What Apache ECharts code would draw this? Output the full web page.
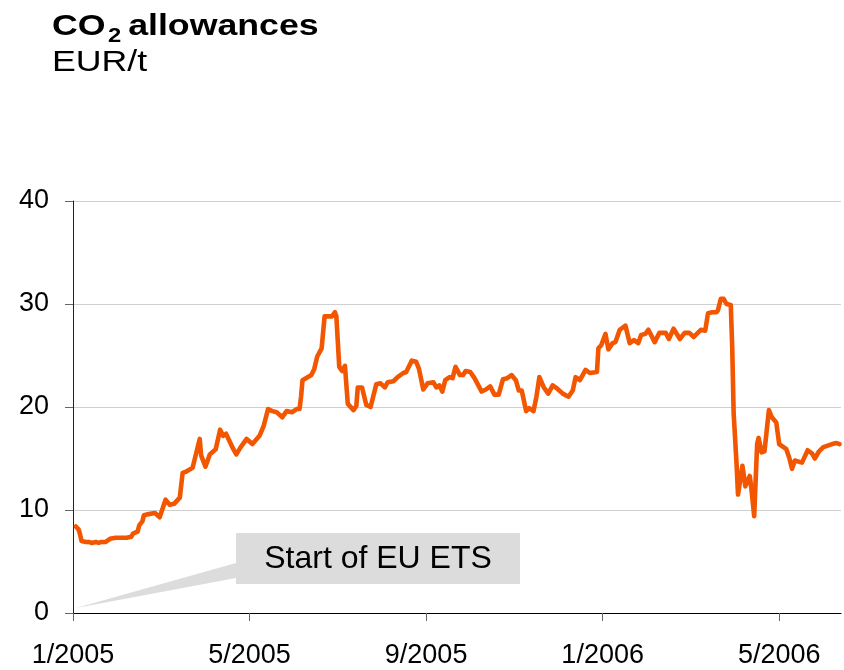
<!DOCTYPE html>
<html>
<head>
<meta charset="utf-8">
<title>CO2 allowances</title>
<script src="https://cdn.jsdelivr.net/npm/echarts@6/dist/echarts.min.js"></script>
<style>
  html, body { margin: 0; padding: 0; background: #ffffff; }
  #chart { width: 844px; height: 670px; }
</style>
</head>
<body>
<div id="chart"></div>
<script>
// EUA spot price, EUR per tonne of CO2
const dates = [
  '2005-01-03','2005-01-04','2005-01-05','2005-01-06','2005-01-07','2005-01-10','2005-01-12','2005-01-14',
  '2005-01-17','2005-01-19','2005-01-21','2005-01-24','2005-01-27','2005-01-31','2005-02-03','2005-02-07',
  '2005-02-10','2005-02-11','2005-02-14','2005-02-15','2005-02-17','2005-02-18','2005-02-21','2005-02-25',
  '2005-02-28','2005-03-01','2005-03-04','2005-03-07','2005-03-10','2005-03-14','2005-03-16','2005-03-18',
  '2005-03-23','2005-03-28','2005-03-29','2005-04-01','2005-04-04','2005-04-08','2005-04-11','2005-04-13',
  '2005-04-15','2005-04-20','2005-04-22','2005-04-25','2005-04-29','2005-05-03','2005-05-08','2005-05-11',
  '2005-05-14','2005-05-17','2005-05-20','2005-05-24','2005-05-27','2005-05-31','2005-06-03','2005-06-05',
  '2005-06-06','2005-06-07','2005-06-13','2005-06-15','2005-06-17','2005-06-20','2005-06-22','2005-06-27',
  '2005-06-29','2005-06-30','2005-07-02','2005-07-04','2005-07-06','2005-07-08','2005-07-12','2005-07-14',
  '2005-07-15','2005-07-18','2005-07-21','2005-07-24','2005-07-28','2005-07-31','2005-08-03','2005-08-05',
  '2005-08-09','2005-08-12','2005-08-16','2005-08-18','2005-08-22','2005-08-25','2005-08-27','2005-08-30',
  '2005-09-02','2005-09-06','2005-09-08','2005-09-10','2005-09-12','2005-09-14','2005-09-17','2005-09-19',
  '2005-09-21','2005-09-24','2005-09-26','2005-09-28','2005-10-01','2005-10-04','2005-10-09','2005-10-12',
  '2005-10-15','2005-10-18','2005-10-21','2005-10-24','2005-10-27','2005-10-30','2005-11-02','2005-11-04',
  '2005-11-06','2005-11-09','2005-11-11','2005-11-14','2005-11-16','2005-11-18','2005-11-21','2005-11-24',
  '2005-11-27','2005-11-30','2005-12-04','2005-12-08','2005-12-11','2005-12-13','2005-12-16','2005-12-20',
  '2005-12-23','2005-12-28','2005-12-29','2005-12-31','2006-01-03','2006-01-05','2006-01-08','2006-01-10',
  '2006-01-13','2006-01-17','2006-01-20','2006-01-23','2006-01-26','2006-01-28','2006-01-31','2006-02-02',
  '2006-02-06','2006-02-09','2006-02-13','2006-02-15','2006-02-18','2006-02-22','2006-02-25','2006-02-28',
  '2006-03-03','2006-03-08','2006-03-11','2006-03-13','2006-03-16','2006-03-19','2006-03-20','2006-03-22',
  '2006-03-24','2006-03-26','2006-03-29','2006-03-30','2006-03-31','2006-04-02','2006-04-03','2006-04-06',
  '2006-04-08','2006-04-11','2006-04-12','2006-04-14','2006-04-16','2006-04-17','2006-04-19','2006-04-21',
  '2006-04-24','2006-04-26','2006-04-29','2006-05-01','2006-05-06','2006-05-08','2006-05-10','2006-05-12',
  '2006-05-17','2006-05-21','2006-05-24','2006-05-26','2006-05-29','2006-06-01','2006-06-05','2006-06-07',
  '2006-06-10','2006-06-12'
];

const prices = [
  8.4, 8.3, 8.1, 7.6, 7.0, 6.9, 6.9, 6.8,
  6.9, 6.8, 6.9, 6.9, 7.2, 7.3, 7.3, 7.3,
  7.4, 7.7, 7.9, 8.5, 8.9, 9.5, 9.6, 9.7,
  9.3, 9.4, 11.0, 10.5, 10.6, 11.2, 13.6, 13.7,
  14.1, 16.9, 15.3, 14.2, 15.4, 15.9, 17.8, 17.2,
  17.4, 15.9, 15.4, 16.1, 16.9, 16.4, 17.2, 18.2,
  19.8, 19.6, 19.5, 19.0, 19.6, 19.5, 19.8, 19.8,
  21.0, 22.6, 23.1, 23.7, 24.9, 25.7, 28.8, 28.8,
  29.2, 28.8, 23.9, 23.5, 24.0, 20.3, 19.7, 20.1,
  21.9, 21.9, 20.2, 20.0, 22.2, 22.3, 21.9, 22.4,
  22.5, 22.9, 23.3, 23.4, 24.5, 24.4, 23.7, 21.7,
  22.3, 22.4, 21.9, 22.1, 21.5, 22.6, 22.9, 22.8,
  23.9, 23.1, 23.1, 23.5, 23.4, 22.8, 21.5, 21.7,
  22.0, 21.2, 21.2, 22.7, 22.8, 23.1, 22.6, 21.6,
  21.6, 19.6, 19.9, 19.6, 21.0, 22.9, 21.9, 21.3,
  22.1, 21.8, 21.3, 21.0, 21.6, 22.9, 22.6, 23.6,
  23.3, 23.4, 25.7, 26.0, 27.1, 25.6, 26.2, 26.3,
  27.5, 27.9, 26.2, 26.5, 26.2, 27.0, 27.1, 27.5,
  26.3, 27.2, 27.2, 26.6, 27.6, 26.6, 27.2, 27.2,
  26.8, 27.5, 27.4, 29.1, 29.2, 29.2, 29.4, 30.5,
  30.5, 30.0, 29.9, 25.8, 19.4, 14.5, 11.5, 14.3,
  12.3, 13.3, 12.2, 9.4, 16.4, 17.0, 15.6, 15.7,
  19.7, 19.0, 18.5, 16.4, 15.9, 15.1, 14.0, 14.8,
  14.6, 15.8, 15.5, 15.0, 15.7, 16.1, 16.3, 16.4,
  16.5, 16.4
];

// Month ticks every four months, counted from January 2005
const tickMonths = [0, 4, 8, 12, 16];
const yTicks = [0, 10, 20, 30, 40];
const annotationText = 'Start of EU ETS';

const BASE_YEAR = 2005;

// Date string -> fractional month index since January 2005
function monthIndex(s) {
  const [y, m, d] = s.split('-').map(Number);
  const days = new Date(y, m, 0).getDate();
  return (y - BASE_YEAR) * 12 + (m - 1) + (d - 1) / days;
}

function monthLabel(v) {
  const k = Math.round(v);
  return (k % 12 + 1) + '/' + (BASE_YEAR + Math.floor(k / 12));
}

const seriesData = dates.map((d, i) => [monthIndex(d), prices[i]]);

const FONT = '"Liberation Sans", Arial, Helvetica, sans-serif';
const chart = echarts.init(document.getElementById('chart'), null, { renderer: 'canvas' });

chart.setOption({
  backgroundColor: '#ffffff',
  animation: false,
  grid: { left: 73, right: 3, top: 201, bottom: 57 },
  xAxis: {
    type: 'value',
    min: 0,
    max: 17.4,
    interval: 4,
    axisLine: { show: true, lineStyle: { color: '#000000', width: 1 } },
    axisTick: { show: true, length: 8, customValues: tickMonths, lineStyle: { color: '#666666' } },
    axisLabel: {
      customValues: tickMonths,
      formatter: monthLabel,
      fontFamily: FONT, fontSize: 27, color: '#000000', margin: 29
    },
    splitLine: { show: false }
  },
  yAxis: {
    type: 'value',
    min: 0,
    max: 40,
    interval: 10,
    axisLine: { show: true, lineStyle: { color: '#222222', width: 1 } },
    axisTick: { show: true, length: 8, lineStyle: { color: '#666666' } },
    axisLabel: {
      customValues: yTicks,
      fontFamily: FONT, fontSize: 27, color: '#000000', margin: 24
    },
    splitLine: { show: true, lineStyle: { color: '#cfcfcf', width: 1 } }
  },
  series: [{
    type: 'line',
    data: seriesData,
    showSymbol: false,
    symbol: 'none',
    lineStyle: { color: '#f25600', width: 4.6, join: 'round', cap: 'round' },
    z: 5
  }]
});

// Title, unit and the callout box pointing at the start of trading
const tip = chart.convertToPixel({ gridIndex: 0 }, [0, 0]);
chart.setOption({
  graphic: [
    {
      type: 'group', x: 52, y: 0, scaleX: 1.19,
      children: [
        { type: 'text', x: 0, y: 27, style: { text: 'CO', font: 'bold 30px ' + FONT, fill: '#000', verticalAlign: 'middle' } },
        { type: 'text', x: 47, y: 36.5, style: { text: '2', font: 'bold 20px ' + FONT, fill: '#000', verticalAlign: 'middle' } },
        { type: 'text', x: 64, y: 27, style: { text: 'allowances', font: 'bold 30px ' + FONT, fill: '#000', verticalAlign: 'middle' } },
        { type: 'text', x: 0, y: 63, style: { text: 'EUR/t', font: '30px ' + FONT, fill: '#000', verticalAlign: 'middle' } }
      ]
    },
    {
      type: 'polygon',
      shape: { points: [[236, 563], [236, 578], [tip[0] + 3, tip[1] - 5]] },
      style: { fill: '#dcdcdc' },
      z: 10
    },
    {
      type: 'rect',
      shape: { x: 236, y: 533, width: 284, height: 51 },
      style: { fill: '#dcdcdc' },
      z: 10
    },
    {
      type: 'text', x: 378, y: 559,
      style: { text: annotationText, font: '32px ' + FONT, fill: '#000', align: 'center', verticalAlign: 'middle' },
      z: 11
    }
  ]
});
</script>
</body>
</html>
